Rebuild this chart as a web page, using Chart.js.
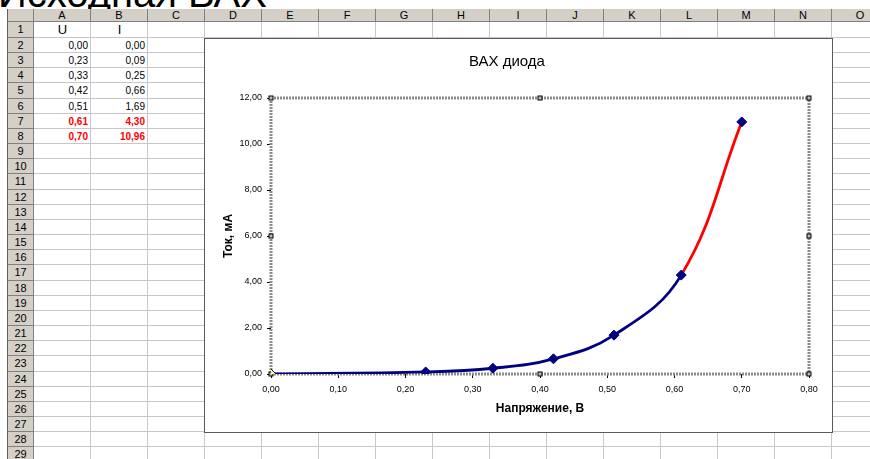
<!DOCTYPE html>
<html>
<head>
<meta charset="utf-8">
<script src="https://cdn.jsdelivr.net/npm/chart.js@4/dist/chart.umd.min.js"></script>
<style>
body { margin: 0; background: #fff; }
#sheet { position: relative; width: 870px; height: 459px; overflow: hidden; background: #fff;
         font-family: "Liberation Sans", Arial, sans-serif; color: #000; }
#big { position: absolute; left: -2px; top: -27px; font-size: 40px; line-height: 40px; white-space: nowrap; }
.hdr { position: absolute; background: #d4d0c8; font-size: 11px; text-align: center; box-sizing: border-box;
       border-right: 1px solid #808080; border-bottom: 1px solid #808080; }
.vl { position: absolute; width: 1px; background: #c8c8c8; }
.hl { position: absolute; height: 1px; background: #c8c8c8; }
.cell { position: absolute; font-size: 10px; box-sizing: border-box; white-space: nowrap; }
#chartBox { position: absolute; left: 204px; top: 38px; width: 629px; height: 395px; box-sizing: border-box;
            border: 1px solid #5a5a5a; background: #fff; z-index: 5; }
#chartBox canvas { display: block; }
</style>
</head>
<body>
<div id="sheet">
  <div id="big">Исходная ВАХ</div>
  <div id="chartBox"><canvas id="vax" width="627" height="393"></canvas></div>
</div>
<script>
// table / chart data
const U = [0.00, 0.23, 0.33, 0.42, 0.51, 0.61, 0.70];
const I = [0.00, 0.09, 0.25, 0.66, 1.69, 4.30, 10.96];
const highlighted = [false, false, false, false, false, true, true];
const columns = ['A', 'B', 'C', 'D', 'E', 'F', 'G', 'H', 'I', 'J', 'K', 'L', 'M', 'N', 'O'];
const headerRow = ['U', 'I'];
const rowCount = 29;

const NAVY = '#000080';
const RED = '#ff0000';

function fmt(v) {
    return Number(v).toFixed(2).replace('.', ',');
}

// ---- spreadsheet ----
const sheet = document.getElementById('sheet');
const colLeft = 34, colW = 57, hdrTop = 9, row1Top = 22, row1H = 16, rowH = 15.16;

function rowTop(n) { return n === 1 ? row1Top : row1Top + row1H + (n - 2) * rowH; }
function rowHeight(n) { return n === 1 ? row1H : rowH; }

function add(cls, style, text) {
    const d = document.createElement('div');
    d.className = cls;
    Object.assign(d.style, style);
    if (text !== undefined) d.textContent = text;
    sheet.appendChild(d);
    return d;
}

// grid lines
columns.forEach((c, k) => {
    add('vl', { left: (colLeft + colW * (k + 1) - 1) + 'px', top: row1Top + 'px', height: (459 - row1Top) + 'px' });
});
for (let n = 1; n <= rowCount; n++) {
    add('hl', { left: colLeft + 'px', top: (rowTop(n) + rowHeight(n) - 1) + 'px', width: (870 - colLeft) + 'px' });
}

// column headers
add('hdr', { left: '7px', top: hdrTop + 'px', width: (colLeft - 7) + 'px', height: (row1Top - hdrTop) + 'px',
             borderLeft: '1px solid #606060' });
columns.forEach((c, k) => {
    add('hdr', { left: (colLeft + colW * k) + 'px', top: hdrTop + 'px', width: colW + 'px',
                 height: (row1Top - hdrTop) + 'px', lineHeight: (row1Top - hdrTop - 1) + 'px' }, c);
});

// row headers
for (let n = 1; n <= rowCount; n++) {
    add('hdr', { left: '7px', top: rowTop(n) + 'px', width: (colLeft - 7) + 'px', height: rowHeight(n) + 'px',
                 lineHeight: (rowHeight(n) - 1) + 'px', borderLeft: '1px solid #606060' }, String(n));
}

// cells
headerRow.forEach((t, k) => {
    add('cell', { left: (colLeft + colW * k) + 'px', top: row1Top + 'px', width: colW + 'px', height: row1H + 'px',
                  lineHeight: row1H + 'px', fontSize: '13px', textAlign: 'center' }, t);
});
U.forEach((u, i) => {
    const n = i + 2;
    const st = { top: rowTop(n) + 'px', width: colW + 'px', height: rowH + 'px', lineHeight: rowH + 'px',
                 textAlign: 'right', paddingRight: '3px' };
    if (highlighted[i]) { st.color = RED; st.fontWeight = 'bold'; }
    add('cell', Object.assign({ left: colLeft + 'px' }, st), fmt(u));
    add('cell', Object.assign({ left: (colLeft + colW) + 'px' }, st), fmt(I[i]));
});

// ---- chart ----
// selected plot area: hatched frame with handles
const plotFrame = {
    id: 'plotFrame',
    beforeDatasetsDraw(chart) {
        const { ctx, chartArea: a } = chart;
        ctx.save();
        ctx.strokeStyle = '#8c8c8c';
        ctx.lineWidth = 3;
        ctx.setLineDash([2, 1]);
        ctx.strokeRect(a.left, a.top, a.right - a.left, a.bottom - a.top);
        ctx.setLineDash([]);
        const mx = (a.left + a.right) / 2, my = (a.top + a.bottom) / 2;
        const handles = [[a.left, a.top], [mx, a.top], [a.right, a.top], [a.right, my],
                         [a.right, a.bottom], [mx, a.bottom], [a.left, a.bottom], [a.left, my]];
        ctx.lineWidth = 1;
        ctx.strokeStyle = '#000';
        ctx.fillStyle = '#bbb';
        handles.forEach(([x, y]) => {
            ctx.fillRect(x - 2, y - 2, 4, 4);
            ctx.strokeRect(x - 2, y - 2, 4, 4);
        });
        ctx.restore();
    }
};

const tickFont = { family: '"Liberation Sans", Arial, sans-serif', size: 9 };
const titleFont = { family: '"Liberation Sans", Arial, sans-serif', size: 12, weight: 'bold' };

new Chart(document.getElementById('vax'), {
    type: 'line',
    data: {
        datasets: [{
            data: U.map((u, i) => ({ x: u, y: I[i] })),
            borderColor: NAVY,
            borderWidth: 2.8,
            tension: 0.4,
            pointStyle: 'rectRot',
            pointRadius: 5,
            pointBorderWidth: 1,
            pointBackgroundColor: U.map((u, i) => i === 0 ? '#ffff66' : NAVY),
            pointBorderColor: NAVY,
            segment: {
                borderColor: c => (highlighted[c.p0DataIndex] && highlighted[c.p1DataIndex]) ? RED : NAVY
            }
        }]
    },
    options: {
        responsive: false,
        animation: false,
        layout: { padding: { left: 0, right: 23, top: 0, bottom: 0 } },
        plugins: {
            legend: { display: false },
            tooltip: { enabled: false },
            title: {
                display: true,
                text: 'ВАХ диода',
                color: '#000',
                font: { family: '"Liberation Sans", Arial, sans-serif', size: 15, weight: 'normal' },
                padding: { top: 14, bottom: 27 }
            }
        },
        scales: {
            x: {
                type: 'linear',
                min: 0,
                max: 0.8,
                ticks: { stepSize: 0.1, callback: v => fmt(v), font: tickFont, color: '#000', padding: 6, maxRotation: 0 },
                grid: { drawOnChartArea: false, tickLength: 4, color: '#000' },
                border: { display: false },
                title: { display: true, text: 'Напряжение, В', color: '#000', font: titleFont, padding: { top: 0, bottom: 15.8 } },
                afterFit: s => { s.height = 58; }
            },
            y: {
                min: 0,
                max: 12,
                ticks: { stepSize: 2, callback: v => fmt(v), font: tickFont, color: '#000', padding: 5 },
                grid: { drawOnChartArea: false, tickLength: 4, color: '#000' },
                border: { display: false },
                title: { display: true, text: 'Ток, мА', color: '#000', font: titleFont, padding: { top: 16.8, bottom: 0 } },
                afterFit: s => { s.width = 66; }
            }
        }
    },
    plugins: [plotFrame]
});
</script>
</body>
</html>
